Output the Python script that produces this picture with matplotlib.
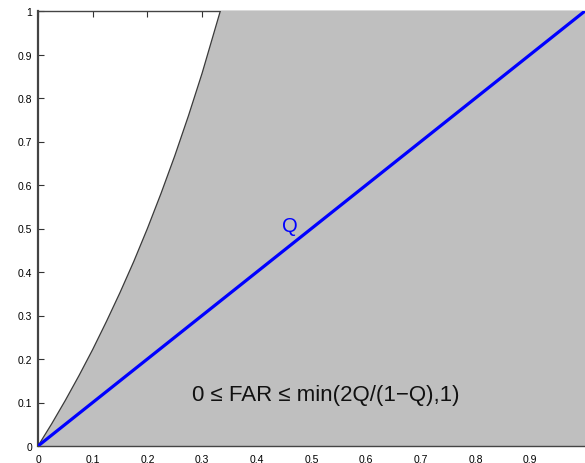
import matplotlib
matplotlib.use("Agg")
import matplotlib.pyplot as plt
import numpy as np

# Boundary of the shaded region
bound_x = [0.0, 0.025, 0.05, 0.075, 0.1, 0.125, 0.15, 0.175, 0.2, 0.225, 0.25,
           0.275, 0.3, 0.3333, 1.0]
bound_y = [0.0, 0.051, 0.105, 0.162, 0.222, 0.286, 0.353, 0.424, 0.5, 0.581,
           0.667, 0.759, 0.857, 1.0, 1.0]
# Diagonal line Q
q_x = [0.0, 1.0]
q_y = [0.0, 1.0]

x_ticks = [0, 0.1, 0.2, 0.3, 0.4, 0.5, 0.6, 0.7, 0.8, 0.9]
x_tick_labels = ["0", "0.1", "0.2", "0.3", "0.4", "0.5", "0.6", "0.7", "0.8", "0.9"]
y_ticks = [0, 0.1, 0.2, 0.3, 0.4, 0.5, 0.6, 0.7, 0.8, 0.9, 1.0]
y_tick_labels = ["0", "0.1", "0.2", "0.3", "0.4", "0.5", "0.6", "0.7", "0.8", "0.9", "1"]

label_q = "Q"
label_far = "0 \u2264 FAR \u2264 min(2Q/(1\u2212Q),1)"

plt.rcParams['font.family'] = ['Liberation Sans', 'DejaVu Sans']

fig = plt.figure(figsize=(5.85, 4.64), dpi=100)
ax = fig.add_axes([38/585, 1-447/464, 547/585, (447-12)/464])

ax.fill_between(bound_x, 0, bound_y, facecolor='#bfbfbf', edgecolor='none', zorder=3)
ax.plot(bound_x[:-1], bound_y[:-1], color='#3a3a3a', lw=0.9, zorder=3.5)
ax.plot(q_x, q_y, color='#0000ff', lw=2.3, zorder=4, solid_capstyle='butt')

ax.text(0.46, 0.508, label_q, color='#0000ff', fontsize=14.5, ha='center', va='center', zorder=5)
ax.text(0.526, 0.118, label_far, color='#111111', fontsize=16, ha='center', va='center', zorder=5)

ax.set_xlim(0, 1)
ax.set_ylim(0, 1)
ax.set_xticks(x_ticks)
ax.set_xticklabels(x_tick_labels)
ax.set_yticks(y_ticks)
ax.set_yticklabels(y_tick_labels)

ax.tick_params(axis='both', direction='in', labelsize=7.5, color='#333333', width=0.8, length=4)
ax.tick_params(axis='x', top=True, bottom=False, pad=6)
ax.tick_params(axis='y', right=False, pad=4)

for s in ['left', 'top', 'bottom']:
    ax.spines[s].set_color('#444444')
ax.spines['left'].set_linewidth(1.6)
ax.spines['top'].set_linewidth(1.0)
ax.spines['bottom'].set_linewidth(1.0)
ax.spines['bottom'].set_zorder(3.6)
ax.spines['right'].set_visible(False)

fig.savefig("out.png", dpi=100)
